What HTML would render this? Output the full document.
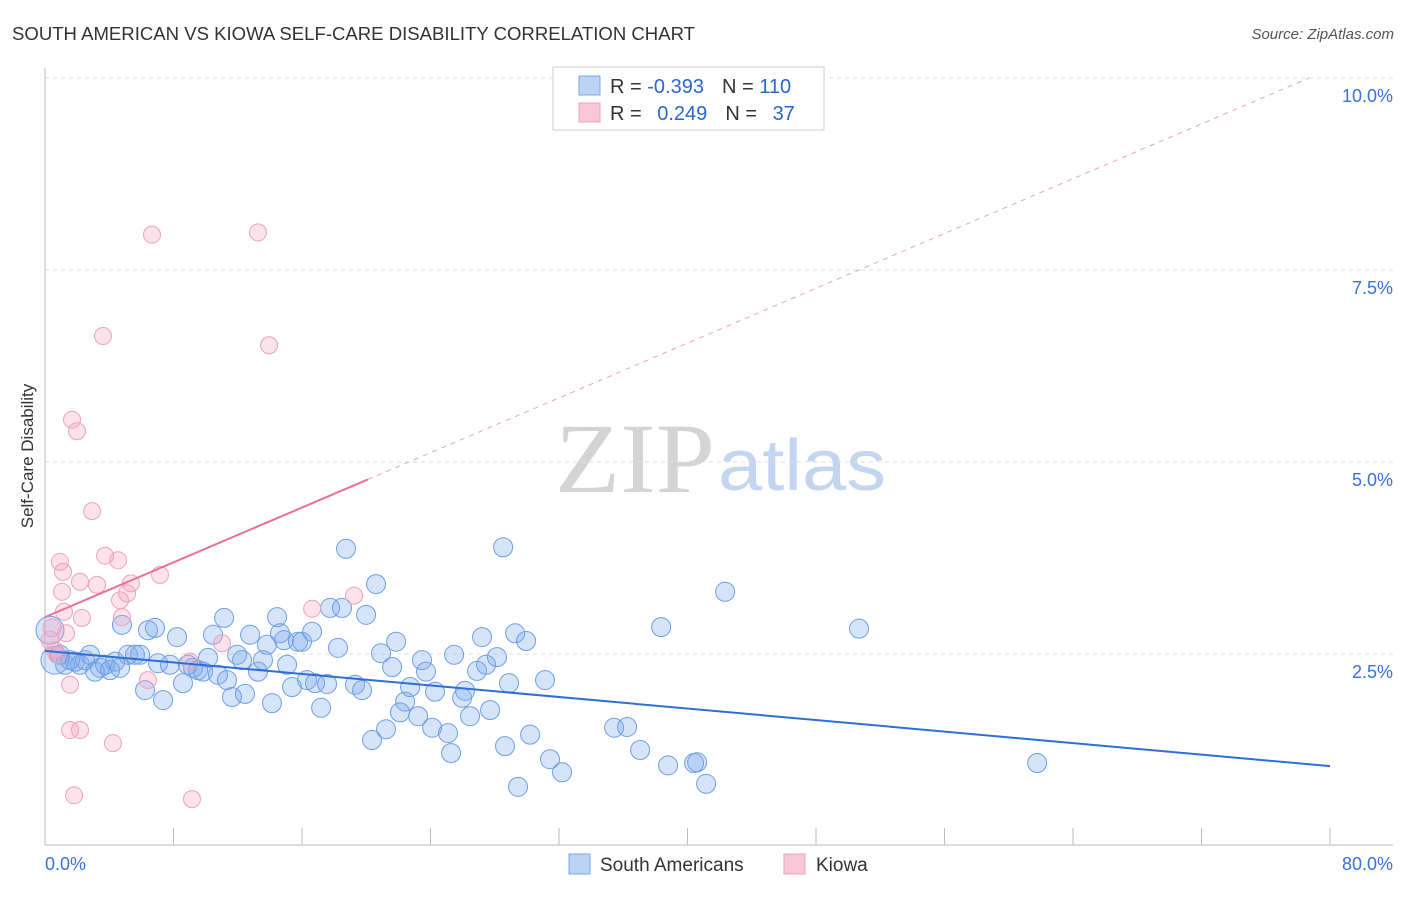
<!DOCTYPE html>
<html><head><meta charset="utf-8"><style>
body{margin:0;background:#fff;font-family:"Liberation Sans",sans-serif;}
svg text{font-family:"Liberation Sans",sans-serif;}
</style></head><body>
<svg id="chart" width="1406" height="892" xmlns="http://www.w3.org/2000/svg">
<text x="12" y="40" font-size="18" fill="#333" textLength="683" lengthAdjust="spacingAndGlyphs">SOUTH AMERICAN VS KIOWA SELF-CARE DISABILITY CORRELATION CHART</text>
<text x="1394" y="39" font-size="15" fill="#555" text-anchor="end" font-style="italic">Source: ZipAtlas.com</text>
<text transform="translate(33,456) rotate(-90)" font-size="17" fill="#333" text-anchor="middle">Self-Care Disability</text>
<g>
<text x="555" y="492" font-size="100" fill="#d4d4d4" textLength="160" lengthAdjust="spacingAndGlyphs" style="font-family:'Liberation Serif',serif">ZIP</text>
<text x="718" y="490" font-size="72" fill="#c3d5f0" textLength="168" lengthAdjust="spacingAndGlyphs">atlas</text>
</g>
<g id="grid"></g><g id="axes"></g><g id="marks"></g>
<g>
<rect x="553" y="67" width="271" height="63" fill="#fff" stroke="#ccc"/>
<rect x="579" y="76" width="21" height="19" fill="#bcd3f3" stroke="#7aa7e6"/>
<rect x="579" y="103" width="21" height="19" fill="#f8c8d8" stroke="#eba3bc"/>
<text x="610" y="93" font-size="20" fill="#333">R = <tspan fill="#2a66d0">-0.393</tspan><tspan dx="18">N = </tspan><tspan fill="#2a66d0">110</tspan></text>
<text x="610" y="120" font-size="20" fill="#333">R = <tspan fill="#2a66d0" dx="10">0.249</tspan><tspan dx="18">N = </tspan><tspan fill="#2a66d0" dx="10">37</tspan></text>
</g>
<g>
<rect x="569" y="854" width="21" height="20" fill="#bcd3f3" stroke="#7aa7e6"/>
<text x="600" y="871" font-size="19" fill="#333">South Americans</text>
<rect x="784" y="854" width="21" height="20" fill="#f8c8d8" stroke="#eba3bc"/>
<text x="816" y="871" font-size="19" fill="#333">Kiowa</text>
</g>
</svg>
<script>
const blueX=[0.31,0.62,0.93,1.25,1.56,1.87,2.18,2.49,2.80,3.11,3.42,3.74,4.05,4.36,4.67,4.79,5.17,5.60,5.92,6.23,6.41,6.85,7.04,7.35,7.78,8.22,8.59,8.90,9.22,9.53,9.84,10.15,10.46,10.77,11.15,11.33,11.64,11.96,12.27,12.45,12.77,13.26,13.57,13.82,14.13,14.45,14.63,14.88,15.07,15.38,15.75,16.00,16.31,16.63,16.81,17.19,17.56,17.75,18.24,18.49,18.74,19.30,19.74,19.99,20.36,20.61,20.92,21.23,21.61,21.86,22.10,22.42,22.73,23.23,23.47,23.72,24.10,24.28,25.09,25.28,25.47,25.97,26.15,26.46,26.90,27.21,27.46,27.71,28.14,28.52,28.64,28.89,29.27,29.45,29.95,30.20,31.13,31.44,32.19,35.43,36.24,37.05,38.36,38.79,40.41,40.60,41.16,42.34,50.68,61.77];
const blueY=[2.81,2.42,2.49,2.36,2.42,2.40,2.36,2.42,2.49,2.27,2.32,2.36,2.29,2.40,2.32,2.88,2.49,2.49,2.49,2.03,2.81,2.84,2.38,1.90,2.36,2.72,2.12,2.36,2.32,2.29,2.27,2.45,2.75,2.23,2.97,2.16,1.94,2.49,2.42,1.98,2.75,2.27,2.42,2.62,1.86,2.98,2.77,2.68,2.36,2.07,2.66,2.66,2.16,2.79,2.12,1.80,2.11,3.10,2.58,3.10,3.87,2.10,2.03,3.01,1.38,3.41,2.51,1.52,2.33,2.66,1.74,1.88,2.07,1.69,2.42,2.27,1.54,2.01,1.47,1.21,2.49,1.93,2.02,1.69,2.28,2.72,2.36,1.77,2.46,3.89,1.30,2.12,2.77,0.77,2.67,1.45,2.16,1.13,0.96,1.54,1.55,1.25,2.85,1.05,1.08,1.09,0.81,3.31,2.83,1.08];
const pinkX=[0.31,0.44,0.62,0.75,0.93,1.06,1.12,1.18,1.31,1.56,1.56,1.68,1.81,1.99,2.18,2.18,2.30,2.93,3.24,3.61,3.74,4.23,4.55,4.67,4.79,5.11,5.35,6.41,6.66,7.16,9.03,9.15,11.02,13.26,13.95,16.63,19.24];
const pinkY=[2.68,2.84,2.55,2.49,3.70,3.31,3.57,3.05,2.77,2.10,1.51,5.55,0.66,5.40,1.51,3.44,2.97,4.36,3.40,6.64,3.78,1.34,3.72,3.20,2.98,3.29,3.42,2.16,7.96,3.53,2.40,0.61,2.64,7.99,6.52,3.09,3.26];
const blueTrend=[2.54,1.04];
const pinkTrend=[2.98,0.0892];
const yTicks=[2.5,5.0,7.5,10.0];
const xTickVals=[0,8,16,24,32,40,48,56,64,72,80];
const NS='http://www.w3.org/2000/svg';
const X=v=>45+v*1285/80;
const Y=v=>846-v*76.8;
function mk(tag,attrs,parent){const e=document.createElementNS(NS,tag);for(const k in attrs)e.setAttribute(k,attrs[k]);parent.appendChild(e);return e;}
const grid=document.getElementById('grid'),axes=document.getElementById('axes'),marks=document.getElementById('marks');
yTicks.forEach(t=>{
 const l=mk('line',{x1:45,x2:1393,y1:Y(t),y2:Y(t),stroke:'#ddd','stroke-dasharray':'4,4'},grid);
 
 
 const tx=mk('text',{x:1393,y:Y(t)+24,'font-size':18,fill:'#3a72d6','text-anchor':'end'},axes);
 tx.textContent=t.toFixed(1)+'%';
 
 
});
mk('line',{x1:45,x2:45,y1:68,y2:845,stroke:'#bbb'},axes);
mk('line',{x1:45,x2:1393,y1:845,y2:845,stroke:'#bbb'},axes);
xTickVals.forEach(t=>{
 const l=mk('line',{x1:X(t),x2:X(t),y1:828,y2:845,stroke:'#bbb'},axes);
 
 
});
[['0.0%',45,'start'],['80.0%',1393,'end']].forEach(a=>{
 const tx=mk('text',{x:a[1],y:870,'font-size':18,fill:'#3a72d6','text-anchor':a[2]},axes);
 tx.textContent=a[0];
 
 
});
const pxEnd=(10-pinkTrend[0])/pinkTrend[1];
let pl=mk('line',{x1:X(20.1),y1:Y(pinkTrend[0]+pinkTrend[1]*20.1),x2:X(pxEnd),y2:Y(10),stroke:'#eba3bc','stroke-dasharray':'5,5','stroke-width':1},marks);


blueX.forEach((v,i)=>{
 const r=i<2?14:9.5;
 const c=mk('circle',{cx:X(v),cy:Y(blueY[i]),r:r,fill:'rgba(120,165,235,0.3)',stroke:'#6f9fe3','stroke-width':1},marks);
 
 
});
pinkX.forEach((v,i)=>{
 const c=mk('circle',{cx:X(v),cy:Y(pinkY[i]),r:i<2?9:8.5,fill:'rgba(245,160,190,0.3)',stroke:'#eba3bc','stroke-width':1},marks);
 
 
});
let bl=mk('line',{x1:X(0),y1:Y(blueTrend[0]),x2:X(80),y2:Y(blueTrend[1]),stroke:'#2d6fd6','stroke-width':2},marks);


let ps=mk('line',{x1:X(0),y1:Y(pinkTrend[0]),x2:X(20.1),y2:Y(pinkTrend[0]+pinkTrend[1]*20.1),stroke:'#e8709a','stroke-width':2},marks);


</script>
</body></html>
